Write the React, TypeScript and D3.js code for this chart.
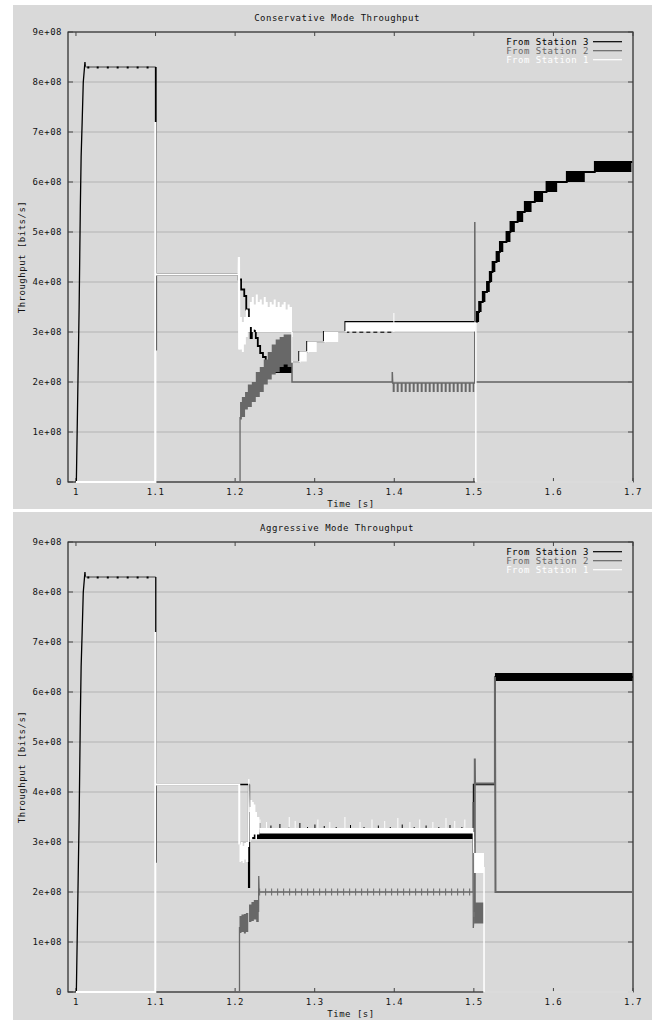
import React from "react";
import * as d3 from "d3";

type P = [number, number];
type B = [number, number, number];
type R = [number, number, number, number];

// ---------- axes / labels ----------
const xTicks = [1, 1.1, 1.2, 1.3, 1.4, 1.5, 1.6, 1.7];
const xTickLabels = ["1", "1.1", "1.2", "1.3", "1.4", "1.5", "1.6", "1.7"];
const yTicks = [0, 1, 2, 3, 4, 5, 6, 7, 8, 9]; // units of 1e8 bits/s
const yTickLabels = ["0", "1e+08", "2e+08", "3e+08", "4e+08", "5e+08", "6e+08", "7e+08", "8e+08", "9e+08"];
const seriesNames = ["From Station 3", "From Station 2", "From Station 1"];
const chartTitles = ["Conservative Mode Throughput", "Aggressive Mode Throughput"];
const xAxisTitle = "Time [s]";
const yAxisTitle = "Throughput [bits/s]";

// ---------- shared start (Station 3 alone) ----------
const s3Ramp: P[] = [[1.0005, 0], [1.002, 1.5], [1.004, 3.5], [1.0055, 5.5], [1.0065, 6.5], [1.0078, 7.2], [1.0092, 8.0], [1.0113, 8.4], [1.0118, 8.3]];
const s3Plateau: P[] = [[1.0118, 8.3], [1.1003, 8.3]];
const s3PlateauSamples = [1.0155, 1.0273, 1.04, 1.0524, 1.065, 1.0775, 1.09];

// ---------- Conservative mode ----------
const consS3Steps: P[] = [
  [1.1003, 8.3], [1.1003, 2.65], [1.1008, 4.15],
  [1.2045, 4.05], [1.2075, 3.85], [1.2115, 3.72], [1.214, 3.45], [1.2175, 3.2], [1.2195, 2.88], [1.221, 3.15],
  [1.2235, 3.02], [1.226, 2.88], [1.2285, 2.72], [1.2315, 2.58], [1.235, 2.5], [1.2385, 2.4],
  [1.2805, 2.6], [1.2905, 2.8], [1.3115, 3.0], [1.3385, 3.2],
];
const consS3Rise: R[] = [
  [1.5035, 1.5066, 3.2, 3.4], [1.5066, 1.5097, 3.4, 3.6], [1.5112, 1.5145, 3.6, 3.8], [1.5165, 1.52, 3.8, 4.0],
  [1.52, 1.523, 4.0, 4.2], [1.5235, 1.527, 4.2, 4.4], [1.5285, 1.5327, 4.4, 4.6], [1.5327, 1.537, 4.6, 4.8],
  [1.541, 1.546, 4.8, 5.0], [1.546, 1.5515, 5.0, 5.2], [1.555, 1.562, 5.2, 5.4], [1.564, 1.5725, 5.4, 5.6],
  [1.5766, 1.587, 5.6, 5.8], [1.5913, 1.6047, 5.8, 6.0], [1.6168, 1.6394, 6.0, 6.2], [1.652, 1.698, 6.2, 6.4],
];
const consS3Blocks: R[] = [[1.2385, 1.2715, 2.18, 2.41]];
const consS3Dashed: P[] = [[1.3385, 3.0], [1.4, 3.0]];

const consS2Start: P[] = [[1.0, 0], [1.2062, 0], [1.2062, 1.3]];
const consS2Band: B[] = [
  [1.2062, 1.25, 1.6], [1.2085, 1.3, 1.7], [1.2125, 1.45, 1.8], [1.216, 1.5, 1.95], [1.221, 1.6, 2.0],
  [1.226, 1.7, 2.2], [1.231, 1.8, 2.3], [1.236, 1.95, 2.45], [1.241, 2.05, 2.6], [1.246, 2.15, 2.75],
  [1.251, 2.2, 2.85], [1.256, 2.3, 2.9], [1.261, 2.35, 2.95], [1.266, 2.3, 2.95], [1.2715, 2.3, 2.9],
];
const consS2Rest: P[] = [[1.2715, 2.9], [1.2715, 2.0], [1.3975, 2.0], [1.3975, 2.2], [1.398, 1.98], [1.5012, 1.98], [1.5012, 5.2], [1.5018, 2.0], [1.7, 2.0]];
const consS2Comb: R[] = [[1.398, 1.5005, 1.8, 1.98]];

const consS1Start: P[] = [[1.0, 0], [1.0997, 0], [1.0997, 7.2], [1.1, 4.15], [1.2045, 4.15], [1.2048, 4.5], [1.2052, 2.65]];
const consS1Band: B[] = [
  [1.2052, 2.65, 3.3], [1.2085, 2.6, 3.2], [1.211, 2.75, 3.3], [1.2135, 2.9, 3.45], [1.216, 3.0, 3.3],
  [1.2185, 3.1, 3.6], [1.221, 3.0, 3.7], [1.2235, 3.05, 3.55], [1.226, 3.0, 3.75], [1.2285, 3.0, 3.6],
  [1.231, 3.0, 3.65], [1.2335, 3.0, 3.55], [1.236, 3.0, 3.7], [1.2385, 3.0, 3.6], [1.241, 3.0, 3.5],
  [1.2435, 3.0, 3.6], [1.246, 3.0, 3.55], [1.2485, 3.0, 3.65], [1.251, 3.0, 3.5], [1.2535, 3.0, 3.6],
  [1.256, 3.0, 3.5], [1.2585, 3.0, 3.55], [1.261, 3.0, 3.6], [1.2635, 3.0, 3.45], [1.266, 3.0, 3.55],
  [1.2685, 3.0, 3.5], [1.2715, 3.0, 3.45],
];
const consS1Steps: P[] = [[1.2715, 3.0], [1.2715, 2.4], [1.2815, 2.6], [1.2915, 2.8], [1.3125, 3.0], [1.3395, 3.18], [1.5025, 0], [1.7, 0]];
const consS1Blocks: R[] = [[1.2815, 1.29, 2.41, 2.6], [1.2915, 1.3025, 2.6, 2.8], [1.3125, 1.3295, 2.8, 3.0], [1.3395, 1.5022, 3.01, 3.18]];
const consS1Spikes: B[] = [[1.3995, 3.0, 3.38]];

// ---------- Aggressive mode ----------
const aggS3Steps: P[] = [[1.1003, 8.3], [1.1003, 2.6], [1.1008, 4.15], [1.2175, 3.13], [1.4995, 4.15], [1.5265, 6.3], [1.7, 6.3]];
const aggS3Drop: P[] = [[1.2175, 4.15], [1.2175, 2.08]];
const aggS3Blocks: R[] = [[1.2185, 1.4995, 3.06, 3.2], [1.5265, 1.6995, 6.22, 6.38]];
const aggS3Spikes: B[] = [
  [1.2312, 3.2, 3.38], [1.245, 3.2, 3.33], [1.2563, 3.2, 3.36], [1.268, 3.2, 3.3], [1.2814, 3.2, 3.38], [1.291, 3.2, 3.3],
  [1.3003, 3.2, 3.35], [1.312, 3.2, 3.32], [1.327, 3.2, 3.3], [1.345, 3.2, 3.34], [1.362, 3.2, 3.3], [1.38, 3.2, 3.33],
  [1.395, 3.2, 3.3], [1.41, 3.2, 3.35], [1.425, 3.2, 3.3], [1.44, 3.2, 3.33], [1.456, 3.2, 3.3], [1.47, 3.2, 3.34], [1.485, 3.2, 3.3],
];

const aggS2Start: P[] = [[1.0, 0], [1.2055, 0], [1.2055, 1.3]];
const aggS2Band1: B[] = [[1.2055, 1.18, 1.52], [1.208, 1.2, 1.55], [1.211, 1.17, 1.56], [1.2135, 1.2, 1.58], [1.2165, 1.2, 1.58]];
const aggS2Band2: B[] = [[1.2175, 1.4, 1.75], [1.2205, 1.42, 1.8], [1.2235, 1.45, 1.84], [1.2265, 1.4, 1.84], [1.2297, 1.42, 1.84]];
const aggS2Band3: B[] = [[1.5003, 1.37, 1.79], [1.5128, 1.37, 1.79]];
const aggS2Mid: P[] = [[1.2295, 1.6], [1.2297, 2.32], [1.2302, 2.0], [1.499, 2.0], [1.499, 3.8], [1.4993, 1.28], [1.5003, 1.5]];
const aggS2End: P[] = [[1.5012, 1.6], [1.5012, 4.67], [1.5015, 4.17], [1.5265, 4.17], [1.5265, 6.3], [1.5272, 2.0], [1.7, 2.0]];
const aggS2Comb: R[] = [[1.2302, 1.499, 1.93, 2.07]];

const aggS1Start: P[] = [[1.0, 0], [1.0997, 0], [1.0997, 7.2], [1.1, 4.15], [1.2052, 4.15], [1.2052, 2.95]];
const aggS1Spike: P[] = [[1.2168, 2.9], [1.2172, 4.26], [1.2178, 3.6]];
const aggS1Mid: P[] = [[1.4995, 3.2], [1.4998, 2.78]];
const aggS1End: P[] = [[1.5128, 2.5], [1.5128, 0], [1.7, 0]];
const aggS1Band1: B[] = [[1.2055, 2.6, 2.95], [1.2075, 2.62, 3.0], [1.2095, 2.58, 2.92], [1.2115, 2.65, 2.98], [1.2135, 2.6, 3.0], [1.2165, 2.62, 2.95]];
const aggS1Band2: B[] = [[1.218, 3.0, 3.7], [1.2195, 3.05, 3.84], [1.2215, 3.1, 3.8], [1.2235, 3.15, 3.75], [1.2255, 3.05, 3.6], [1.2275, 3.15, 3.5], [1.2305, 3.15, 3.5]];
const aggS1Band3: B[] = [[1.2305, 3.17, 3.28], [1.4995, 3.17, 3.28]];
const aggS1Band4: B[] = [[1.5003, 2.38, 2.78], [1.5128, 2.38, 2.78]];
const aggS1Spikes: B[] = [
  [1.2312, 3.25, 3.45], [1.2395, 3.25, 3.4], [1.268, 3.25, 3.5], [1.2755, 3.25, 3.42], [1.304, 3.25, 3.45], [1.319, 3.25, 3.4],
  [1.338, 3.25, 3.5], [1.357, 3.25, 3.4], [1.372, 3.25, 3.45], [1.388, 3.25, 3.42], [1.4045, 3.25, 3.48], [1.4196, 3.25, 3.4],
  [1.432, 3.25, 3.45], [1.4485, 3.25, 3.4], [1.465, 3.25, 3.48], [1.476, 3.25, 3.42], [1.4887, 3.25, 3.45],
];

// ---------- styles ----------
const C3 = "#000000";
const C2 = "#686868";
const C1 = "#ffffff";
const PANEL = "#d9d9d9";
const GRID = "#b3b3b3";
const FONT = "'DejaVu Sans Mono', monospace";

type Line = { pts: P[]; step?: boolean; w?: number; color?: string; dash?: string };
type Series = { color: string; bands?: B[][]; rects?: R[]; lines?: Line[]; combs?: { r: R; dash: string }[]; spikes?: B[]; dots?: { ts: number[]; v: number } };

const consSeries: Series[] = [
  {
    color: C3,
    lines: [
      { pts: s3Ramp, w: 1.3 },
      { pts: s3Plateau, w: 1.6, color: "#747474" },
      { pts: consS3Steps.concat(consS3Rise.map(r => [r[0], r[3]] as P), [[1.699, 6.4]]), step: true, w: 1.8 },
      { pts: consS3Dashed, w: 1.4, dash: "4 3" },
    ],
    rects: consS3Blocks.concat(consS3Rise),
    dots: { ts: s3PlateauSamples, v: 8.3 },
  },
  {
    color: C2,
    bands: [consS2Band],
    lines: [{ pts: consS2Start, w: 1.3 }, { pts: consS2Rest, w: 1.5 }],
    combs: [{ r: consS2Comb[0], dash: "2 2" }],
  },
  {
    color: C1,
    bands: [consS1Band],
    rects: consS1Blocks,
    lines: [{ pts: consS1Start, w: 2.2 }, { pts: consS1Steps, step: true, w: 1.5 }],
    spikes: consS1Spikes,
  },
];

const aggSeries: Series[] = [
  {
    color: C3,
    lines: [
      { pts: s3Ramp, w: 1.3 },
      { pts: s3Plateau, w: 1.6, color: "#747474" },
      { pts: aggS3Steps, step: true, w: 1.3 },
      { pts: aggS3Drop, w: 2.2 },
    ],
    rects: aggS3Blocks,
    spikes: aggS3Spikes,
    dots: { ts: s3PlateauSamples, v: 8.3 },
  },
  {
    color: C2,
    bands: [aggS2Band1, aggS2Band2, aggS2Band3],
    lines: [{ pts: aggS2Start, w: 1.3 }, { pts: aggS2Mid, w: 1.3 }, { pts: aggS2End, w: 2 }],
    combs: [{ r: aggS2Comb[0], dash: "1 5" }],
  },
  {
    color: C1,
    bands: [aggS1Band1, aggS1Band2, aggS1Band3, aggS1Band4],
    lines: [{ pts: aggS1Start, w: 2 }, { pts: aggS1Spike, w: 1.2 }, { pts: aggS1Mid, w: 1.2 }, { pts: aggS1End, w: 1.5 }],
    spikes: aggS1Spikes,
  },
];

function Chart({ oy, panelY, panelH, title, series }: { oy: number; panelY: number; panelH: number; title: string; series: Series[] }) {
  const x = d3.scaleLinear().domain([0.99, 1.7]).range([68, 633]);
  const y = d3.scaleLinear().domain([0, 9]).range([oy + 482, oy + 32]);
  const line = d3.line<P>().x(p => x(p[0])).y(p => y(p[1]));
  const step = d3.line<P>().x(p => x(p[0])).y(p => y(p[1])).curve(d3.curveStepAfter);
  const area = d3.area<B>().x(b => x(b[0])).y0(b => y(b[1])).y1(b => y(b[2])).curve(d3.curveStepAfter);
  const [x0, x1] = x.range();
  const [yb, yt] = y.range();
  const txt = { fontFamily: FONT, fontSize: 9, letterSpacing: 0.5 } as const;

  return (
    <g>
      <rect x={13} y={panelY} width={652 - 13} height={panelH} fill={PANEL} />
      {yTicks.slice(1, -1).map(v => (
        <line key={"g" + v} x1={x0} x2={x1} y1={y(v)} y2={y(v)} stroke={GRID} strokeWidth={1} />
      ))}
      <rect x={x0} y={yt} width={x1 - x0} height={yb - yt} fill="none" stroke="#000" strokeWidth={1} />
      {yTicks.map(v => (
        <g key={"yt" + v}>
          <line x1={x0} x2={x0 + 5} y1={y(v)} y2={y(v)} stroke="#444" />
          <line x1={x1 - 5} x2={x1} y1={y(v)} y2={y(v)} stroke="#444" />
        </g>
      ))}
      {xTicks.map(t => (
        <g key={"xt" + t}>
          <line x1={x(t)} x2={x(t)} y1={yb} y2={yb - 4} stroke="#444" />
          <line x1={x(t)} x2={x(t)} y1={yt} y2={yt + 4} stroke="#444" />
        </g>
      ))}
      {yTicks.map((v, i) => (
        <text key={"yl" + v} x={62} y={y(v) + 3} textAnchor="end" {...txt} fill="#111">{yTickLabels[i]}</text>
      ))}
      {xTicks.map((t, i) => (
        <text key={"xl" + t} x={x(t)} y={yb + 13} textAnchor="middle" {...txt} fill="#111">{xTickLabels[i]}</text>
      ))}
      <text x={351} y={yb + 25} textAnchor="middle" {...txt} fill="#111">{xAxisTitle}</text>
      <text transform={`translate(25,${(yt + yb) / 2}) rotate(-90)`} textAnchor="middle" {...txt} fill="#111">{yAxisTitle}</text>
      <text x={337} y={oy + 21} textAnchor="middle" {...txt} fill="#111">{title}</text>

      {series.map((s, si) => (
        <g key={"s" + si}>
          {(s.bands || []).map((b, bi) => <path key={"b" + bi} d={area(b) || ""} fill={s.color} />)}
          {(s.rects || []).map((r, ri) => (
            <rect key={"r" + ri} x={x(r[0])} y={y(r[3])} width={x(r[1]) - x(r[0])} height={y(r[2]) - y(r[3])} fill={s.color} />
          ))}
          {(s.combs || []).map((c, ci) => (
            <line key={"c" + ci} x1={x(c.r[0])} x2={x(c.r[1])} y1={y((c.r[2] + c.r[3]) / 2)} y2={y((c.r[2] + c.r[3]) / 2)}
              stroke={s.color} strokeWidth={y(c.r[2]) - y(c.r[3])} strokeDasharray={c.dash} />
          ))}
          {(s.lines || []).map((l, li) => (
            <path key={"l" + li} d={(l.step ? step : line)(l.pts) || ""} fill="none" stroke={l.color || s.color}
              strokeWidth={l.w || 1} strokeDasharray={l.dash} />
          ))}
          {(s.spikes || []).map((sp, i) => (
            <line key={"sp" + i} x1={x(sp[0])} x2={x(sp[0])} y1={y(sp[1])} y2={y(sp[2])} stroke={s.color} strokeWidth={1} />
          ))}
          {s.dots && s.dots.ts.map((t, i) => (
            <rect key={"d" + i} x={x(t) - 1} y={y(s.dots!.v) - 0.5} width={2} height={2} fill="#000" />
          ))}
        </g>
      ))}

      {seriesNames.map((n, i) => {
        const ly = oy + 41.7 + i * 9;
        const col = [C3, C2, C1][i];
        return (
          <g key={"lg" + i}>
            <text x={589} y={ly + 3} textAnchor="end" {...txt} fill={col}>{n}</text>
            <line x1={593} x2={622} y1={ly} y2={ly} stroke={col} strokeWidth={1.2} />
          </g>
        );
      })}
    </g>
  );
}

export default function App() {
  return (
    <div style={{ position: "absolute", left: 0, top: 0 }}>
      <svg width={652} height={1020} style={{ display: "block", background: "#fff" }}>
        <Chart oy={0} panelY={5} panelH={504} title={chartTitles[0]} series={consSeries} />
        <Chart oy={510} panelY={512} panelH={508} title={chartTitles[1]} series={aggSeries} />
      </svg>
    </div>
  );
}
